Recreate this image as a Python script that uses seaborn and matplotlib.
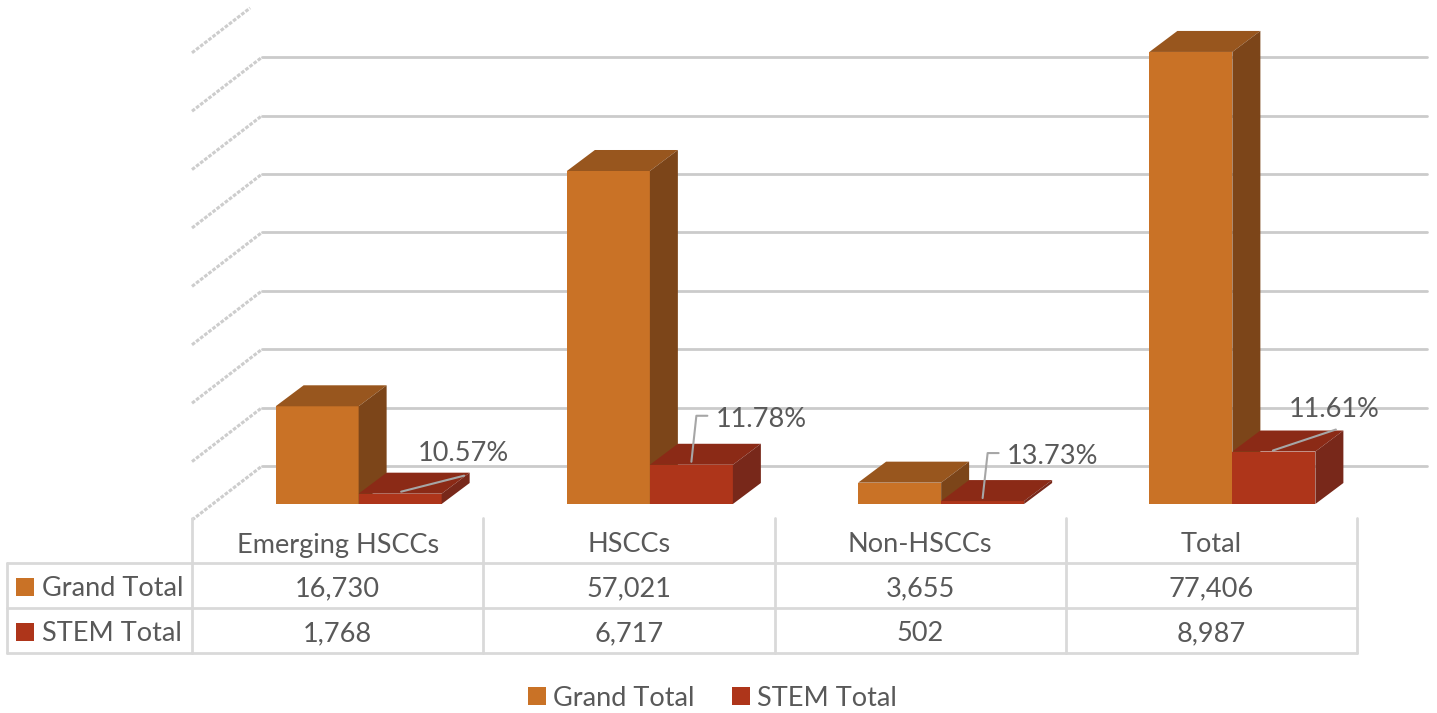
import numpy as np
import pandas as pd
import seaborn as sns
import matplotlib
matplotlib.use('Agg')
import matplotlib.pyplot as plt
from matplotlib.patches import Polygon, Rectangle

categories = ['Emerging HSCCs', 'HSCCs', 'Non-HSCCs', 'Total']
series = ['Grand Total', 'STEM Total']
grand_total = [16730, 57021, 3655, 77406]
stem_total = [1768, 6717, 502, 8987]
y_ticks = list(range(0, 80001, 10000))

# front, top, side shades
colors = {'Grand Total': ('#C97226', '#98561E', '#7C4519'),
          'STEM Total': ('#AE351A', '#8B2A16', '#78281A')}
text_color = '#595959'
grid_color = '#cbcbcb'
table_color = '#d9d9d9'
fs = 19.5

W, H = 1437, 713

df = pd.DataFrame({'Category': categories * 2,
                   'Series': [series[0]] * len(categories) + [series[1]] * len(categories),
                   'Value': grand_total + stem_total})

sns.set_style('white')
plt.rcParams['font.family'] = ['Lato', 'DejaVu Sans']

fig = plt.figure(figsize=(W / 100, H / 100), dpi=100)
bg = fig.add_axes([0, 0, 1, 1], zorder=0)
ax = fig.add_axes([213 / W, (H - 504) / H, 1165 / W, 467.2 / H], zorder=1)
fg = fig.add_axes([0, 0, 1, 1], zorder=2)
for a in (bg, fg):
    a.set_xlim(0, W)
    a.set_ylim(H, 0)
    a.axis('off')

sns.barplot(data=df, x='Category', y='Value', hue='Series', order=categories,
            hue_order=series, palette=[colors[s][0] for s in series], width=0.57,
            saturation=1, errorbar=None, legend=False, linewidth=0, ax=ax)
ax.set_xlim(-0.5, len(categories) - 0.5)
ax.set_ylim(0, y_ticks[-1])
ax.set_facecolor('none')
ax.axis('off')


def to_px(x, y):
    px, py = ax.transData.transform((x, y))
    return px, H - py


# bar depth in data units (28 px right, 21 px up)
ux = to_px(1, 0)[0] - to_px(0, 0)[0]
uy = to_px(0, 0)[1] - to_px(0, 1)[1]
ddx, ddy = 28 / ux, 21 / uy

# back wall gridlines and side wall
for v in y_ticks:
    xb, yb = to_px(-0.5, v)
    x0, y0 = xb - 21, yb + 16
    x1, y1 = xb + 49, yb - 38
    if v == y_ticks[-1]:
        # top edge is cut short in the original
        x1, y1 = x0 + 0.83 * (x1 - x0), y0 + 0.83 * (y1 - y0)
    bg.plot([x0, x1], [y0, y1], color='#cdcdcd', lw=2.2, ls=(0, (1.2, 0.5)),
            solid_capstyle='butt')
    if v < y_ticks[-1]:
        xr = to_px(len(categories) - 0.5, v)[0] + 49
        bg.plot([x1, xr], [y1, y1], color=grid_color, lw=2)

# 3d faces on seaborn bars
patches = list(ax.patches)
order = sorted(range(len(patches)), key=lambda i: patches[i].get_x())
for rank, i in enumerate(order):
    p = patches[i]
    s = series[i // len(categories)]
    x0, w, h = p.get_x(), p.get_width(), p.get_height()
    z = 2 + 3 * rank
    p.set_zorder(z)
    p.set_edgecolor('none')
    top = [(x0, h), (x0 + w, h), (x0 + w + ddx, h + ddy), (x0 + ddx, h + ddy)]
    side = [(x0 + w, 0), (x0 + w, h), (x0 + w + ddx, h + ddy), (x0 + w + ddx, ddy)]
    ax.add_patch(Polygon(top, closed=True, facecolor=colors[s][1], edgecolor='none',
                         zorder=z + 1, clip_on=False))
    ax.add_patch(Polygon(side, closed=True, facecolor=colors[s][2], edgecolor='none',
                         zorder=z + 1, clip_on=False))

# percentage labels on STEM bars
label_offsets = [(63, -40), (70, -45), (70, -45), (60, -42)]
leader_paths = [[(1, -2), (64, -18)],
                [(0, -3), (5, -49), (16, -49)],
                [(0, -3), (5, -48), (16, -48)],
                [(-1, -1), (62, -22)]]
stem_bars = patches[len(categories):]
for k, p in enumerate(stem_bars):
    ax_, ay_ = to_px(p.get_x() + p.get_width() / 2, p.get_height())
    pct = stem_total[k] / grand_total[k] * 100
    xs = [ax_ + dx for dx, dy in leader_paths[k]]
    ys = [ay_ + dy for dx, dy in leader_paths[k]]
    fg.plot(xs, ys, color='#a6a6a6', lw=1.5)
    fg.text(ax_ + label_offsets[k][0], ay_ + label_offsets[k][1], f'{pct:.2f}%',
            ha='center', va='center', fontsize=fs, color=text_color)

# data table
col_edges = [to_px(-0.5 + k, 0)[0] - 21 for k in range(len(categories) + 1)]
row_y = [518, 563, 608, 653]
left = 7
for y in row_y[1:]:
    fg.plot([left, col_edges[-1]], [y, y], color=table_color, lw=2)
for x in col_edges:
    fg.plot([x, x], [row_y[0], row_y[-1]], color=table_color, lw=2)
fg.plot([left, left], [row_y[1], row_y[-1]], color=table_color, lw=2)

for k, c in enumerate(categories):
    xc = (col_edges[k] + col_edges[k + 1]) / 2
    fg.text(xc, 545, c, ha='center', va='center', fontsize=fs, color=text_color)
    for r, vals in enumerate([grand_total, stem_total]):
        fg.text(xc, (row_y[r + 1] + row_y[r + 2]) / 2 + 3, f'{vals[k]:,}', ha='center',
                va='center', fontsize=fs, color=text_color)

for r, s in enumerate(series):
    yc = (row_y[r + 1] + row_y[r + 2]) / 2
    fg.add_patch(Rectangle((16, yc - 8), 18, 18, facecolor=colors[s][0], edgecolor='none'))
    fg.text(42, yc + 3, s, ha='left', va='center', fontsize=fs, color=text_color)

# legend
for s, x in zip(series, [528, 732]):
    fg.add_patch(Rectangle((x, 687), 18, 18, facecolor=colors[s][0], edgecolor='none'))
    fg.text(x + 25, 698, s, ha='left', va='center', fontsize=fs, color=text_color)

fig.savefig('out.png', dpi=100)
